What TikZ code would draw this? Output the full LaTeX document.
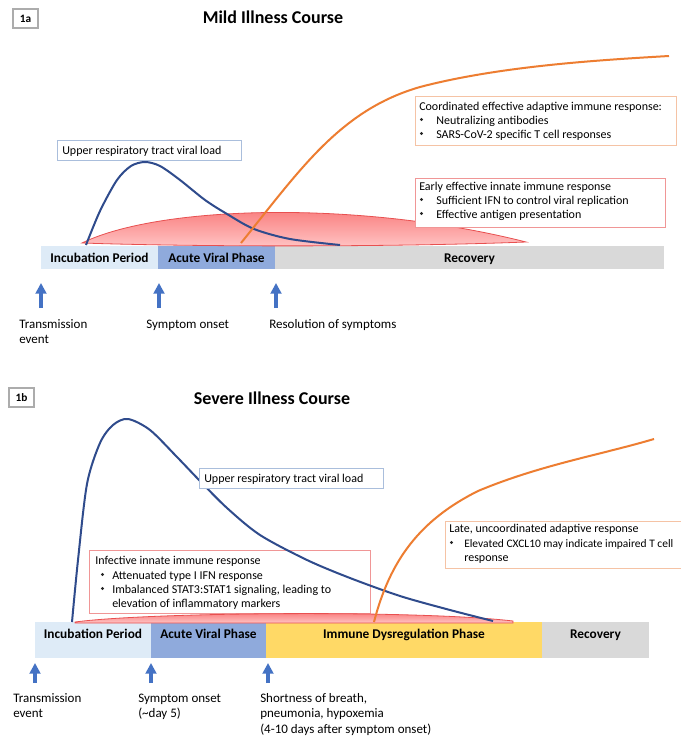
\documentclass[tikz,border=0pt]{standalone}
\usepackage{fontspec}
\setmainfont{Carlito}
\usetikzlibrary{arrows.meta}
\definecolor{incub}{RGB}{222,235,247}
\definecolor{acute}{RGB}{143,170,220}
\definecolor{recov}{RGB}{217,217,217}
\definecolor{dysreg}{RGB}{255,217,102}
\definecolor{navy}{RGB}{47,75,140}
\definecolor{orng}{RGB}{237,125,49}
\definecolor{arrowblue}{RGB}{68,114,196}
\definecolor{bluebord}{RGB}{170,190,220}
\definecolor{orbord}{RGB}{245,195,165}
\definecolor{redbord}{RGB}{240,150,150}
\definecolor{lenstop}{RGB}{248,110,110}
\definecolor{lensbot}{RGB}{255,195,195}
\definecolor{lensedge}{RGB}{232,80,80}
\begin{document}
\begin{tikzpicture}[x=0.75pt,y=-0.75pt,
  boxtxt/.style={font=\fontsize{9}{11}\selectfont, inner sep=0pt, anchor=base west},
  bul/.style={circle, fill=black!85, inner sep=0pt, minimum size=2.4pt},
  lbl/.style={font=\fontsize{9.75}{11.25}\selectfont, inner sep=0pt, anchor=base west},
  barlbl/.style={font=\bfseries\fontsize{10}{12}\selectfont, inner sep=0pt, anchor=base},
  ttl/.style={font=\bfseries\fontsize{13.5}{16}\selectfont, inner sep=0pt, anchor=base},
  tag/.style={font=\bfseries\fontsize{8.5}{10}\selectfont, inner sep=0pt, anchor=center},
  tagbox/.style={draw=gray!65, line width=0.8pt},
  bluebox/.style={draw=bluebord, line width=0.75pt, fill=white},
  orbox/.style={draw=orbord, line width=0.75pt, fill=white},
  redbox/.style={draw=redbord, line width=0.75pt, fill=white},
  viral/.style={draw=navy, line width=1.5pt},
  adapt/.style={draw=orng, line width=1.5pt},
  lens/.style={top color=lenstop, bottom color=lensbot, draw=lensedge, line width=0.6pt},
  uparrow/.style={draw=arrowblue, line width=2.6pt, -{Triangle[width=8pt,length=8pt]}}
]
\useasboundingbox (0,0) rectangle (681,742);
\fill[white] (0,0) rectangle (681,742);

%% ---------------- Panel 1a ----------------
\draw[tagbox] (13,9) rectangle (38,28);
\node[tag] (t1a) at (25.5,18.5) {1a};
\node[ttl] (title1a) at (273,24) {Mild Illness Course};

% phase bar
\fill[incub] (41,246) rectangle (158,269);
\fill[acute] (158,246) rectangle (275,269);
\fill[recov] (275,246) rectangle (664,269);
\node[barlbl] (inc1a) at (99.5,262) {Incubation Period};
\node[barlbl] (acu1a) at (216.5,262) {Acute Viral Phase};
\node[barlbl] (rec1a) at (469.5,262) {Recovery};

% innate response lens
\path[lens] (82,243) .. controls (160,205) and (360,200) .. (526,242)
  .. controls (400,247) and (200,247) .. (82,243) -- cycle;

% viral load curve
\draw[viral] plot[smooth] coordinates {(86,245) (100,211) (117,180) (131,166) (145,162) (160,166) (180,180) (205,200) (227,214) (254,229) (290,239) (340,245)};
% adaptive response curve
\draw[adapt] (241,243) .. controls (300,170) and (340,110) .. (420,87)
  .. controls (500,66) and (600,60) .. (669,56);

% boxes
\draw[bluebox] (57,140) rectangle (241,160);
\node[boxtxt] (vl1a) at (62,154) {Upper respiratory tract viral load};

\draw[orbox] (415,96) rectangle (676,145);
\node[boxtxt] (ad1) at (419,110) {Coordinated effective adaptive immune response:};
\node[bul] (ad2b) at (421.5,119.5) {};
\node[boxtxt] (ad2) at (436,124) {Neutralizing antibodies};
\node[bul] (ad3b) at (421.5,133.5) {};
\node[boxtxt] (ad3) at (436,138) {SARS-CoV-2 specific T cell responses};

\draw[redbox] (415,178) rectangle (665,227);
\node[boxtxt] (in1) at (419,190) {Early effective innate immune response};
\node[bul] (in2b) at (421.5,199.5) {};
\node[boxtxt] (in2) at (436,204) {Sufficient IFN to control viral replication};
\node[bul] (in3b) at (421.5,213.5) {};
\node[boxtxt] (in3) at (436,218) {Effective antigen presentation};

% event arrows
\coordinate (a1s) at (41,308);  \coordinate (a1e) at (41,283);
\coordinate (a2s) at (159,308); \coordinate (a2e) at (159,283);
\coordinate (a3s) at (276,308); \coordinate (a3e) at (276,283);
\draw[uparrow] (a1s) -- (a1e);
\draw[uparrow] (a2s) -- (a2e);
\draw[uparrow] (a3s) -- (a3e);
\node[lbl] (ev1a) at (19,328) {Transmission};
\node[lbl] (ev1b) at (19,343) {event};
\node[lbl] (ev2) at (146,328) {Symptom onset};
\node[lbl] (ev3) at (269,328) {Resolution of symptoms};

%% ---------------- Panel 1b ----------------
\draw[tagbox] (9,388) rectangle (34,407);
\node[tag] (t1b) at (21.5,397.5) {1b};
\node[ttl] (title1b) at (272,404) {Severe Illness Course};

% phase bar
\fill[incub] (35,622) rectangle (151,658);
\fill[acute] (151,622) rectangle (266,658);
\fill[dysreg] (266,622) rectangle (542,658);
\fill[recov] (542,622) rectangle (649,658);
\node[barlbl] (inc1b) at (93,638) {Incubation Period};
\node[barlbl] (acu1b) at (208.5,638) {Acute Viral Phase};
\node[barlbl] (dys1b) at (404,638) {Immune Dysregulation Phase};
\node[barlbl] (rec1b) at (595.5,638) {Recovery};

% innate box (under the curves)
\draw[redbox] (89,550) rectangle (370,613);
\node[boxtxt] (bi1) at (95,564) {Infective innate immune response};
\node[bul] (bi2b) at (102.5,574.5) {};
\node[boxtxt] (bi2) at (112,579) {Attenuated type I IFN response};
\node[bul] (bi3b) at (102.5,588.5) {};
\node[boxtxt] (bi3) at (112,593) {Imbalanced STAT3:STAT1 signaling, leading to};
\node[boxtxt] (bi4) at (112,607) {elevation of inflammatory markers};

% innate lens
\path[lens] (75,622) .. controls (150,612) and (420,610) .. (513,621)
  -- (513,623) -- (75,623) -- cycle;

% viral load curve
\draw[viral] plot[smooth] coordinates {(72,622) (78,560) (87,484) (100,443) (113,425) (128,419) (150,430) (177,457) (200,481) (227,508) (260,535) (307,560) (350,578) (400,596) (450,610) (493,621)};
% adaptive response curve
\draw[adapt] (374,622) .. controls (390,560) and (420,520) .. (478,491)
  .. controls (540,465) and (600,455) .. (654,439);

\draw[bluebox] (199,468) rectangle (383,488);
\node[boxtxt] (vl1b) at (204,482) {Upper respiratory tract viral load};

\draw[orbox] (445,521) rectangle (700,568);
\node[boxtxt] (ba1) at (449,532) {Late, uncoordinated adaptive response};
\node[bul] (ba2b) at (451.5,542.5) {};
\node[boxtxt, font=\fontsize{8.6}{11}\selectfont] (ba2) at (464,547) {Elevated CXCL10 may indicate impaired T cell};
\node[boxtxt] (ba3) at (464,561) {response};

% event arrows
\coordinate (b1s) at (35,683);  \coordinate (b1e) at (35,663);
\coordinate (b2s) at (151,683); \coordinate (b2e) at (151,663);
\coordinate (b3s) at (268,683); \coordinate (b3e) at (268,663);
\draw[uparrow] (b1s) -- (b1e);
\draw[uparrow] (b2s) -- (b2e);
\draw[uparrow] (b3s) -- (b3e);
\node[lbl] (eb1a) at (13,702) {Transmission};
\node[lbl] (eb1b) at (13,717) {event};
\node[lbl] (eb2a) at (138,702) {Symptom onset};
\node[lbl] (eb2b) at (138,717) {(\textasciitilde day 5)};
\node[lbl] (eb3a) at (260,702) {Shortness of breath,};
\node[lbl] (eb3b) at (260,717) {pneumonia, hypoxemia};
\node[lbl] (eb3c) at (260,733) {(4-10 days after symptom onset)};
\end{tikzpicture}
\end{document}
